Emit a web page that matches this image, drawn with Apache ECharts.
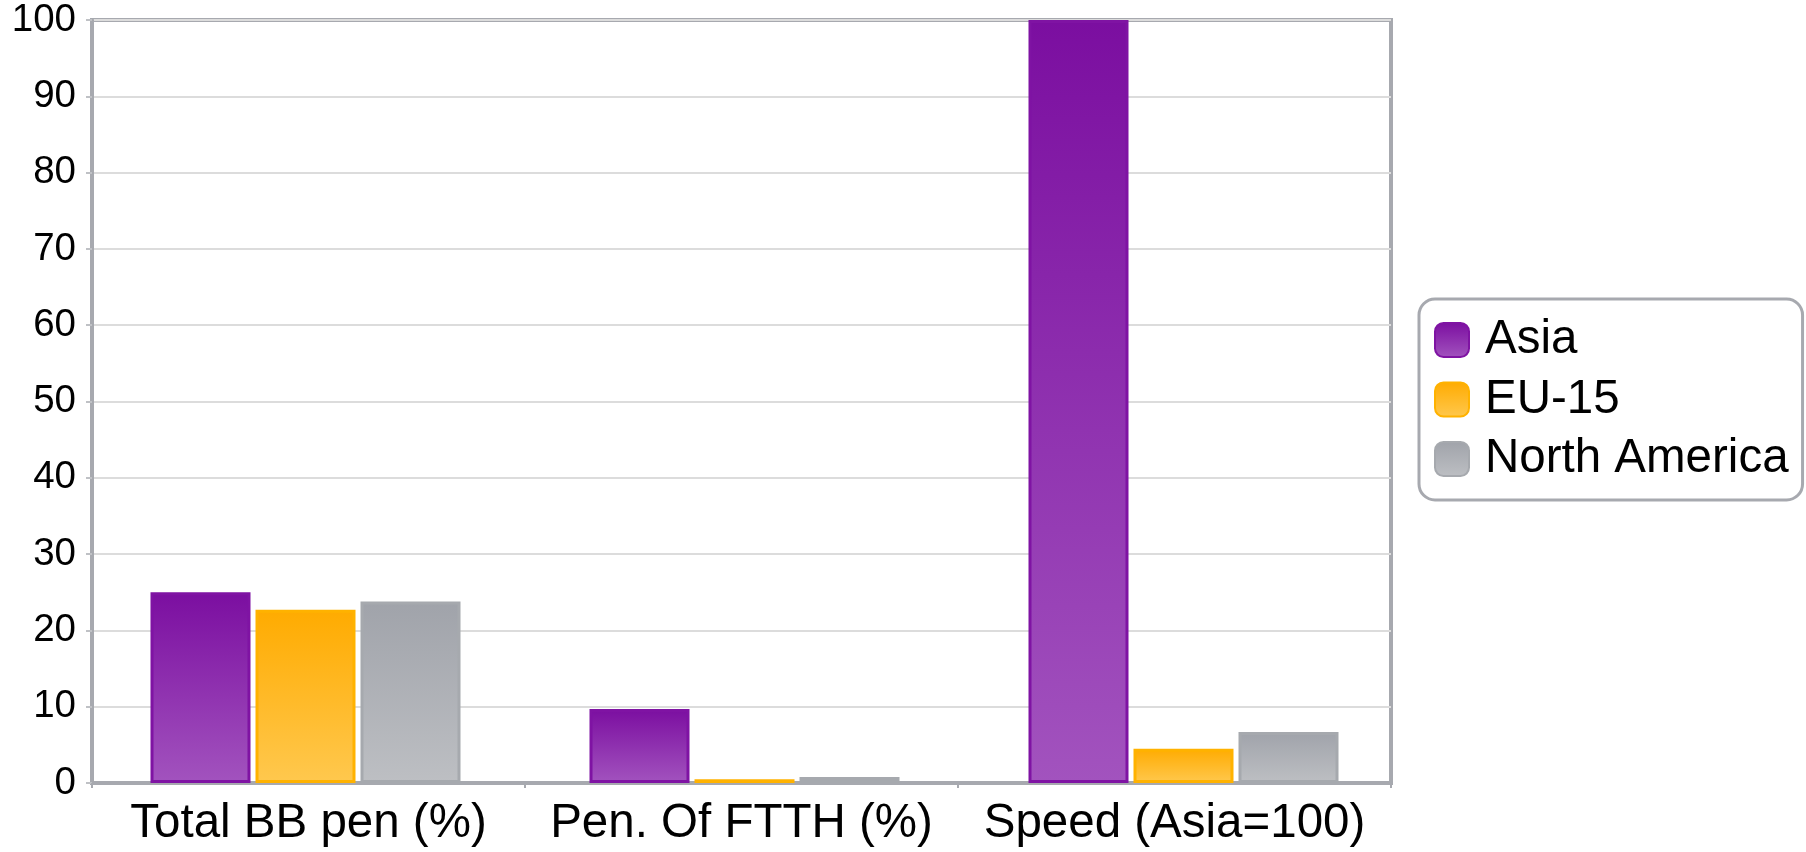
<!DOCTYPE html>
<html>
<head>
<meta charset="utf-8">
<script src="https://cdn.jsdelivr.net/npm/echarts@6/dist/echarts.min.js"></script>
<style>
  html, body { margin: 0; padding: 0; background: #ffffff; }
  #chart { width: 1806px; height: 852px; }
</style>
</head>
<body>
<div id="chart"></div>
<script>
// Broadband comparison by region
const categories = ['Total BB pen (%)', 'Pen. Of FTTH (%)', 'Speed (Asia=100)'];
const seriesNames = ['Asia', 'EU-15', 'North America'];
const asiaValues = [25, 9.7, 100];
const euValues = [22.7, 0.5, 4.5];
const northAmericaValues = [23.8, 0.8, 6.7];
const yTicks = { min: 0, max: 100, step: 10 };

const FONT = '"Liberation Sans", Arial, sans-serif';
const FRAME = '#A7A9AF';

// top colour, bottom colour, outline colour per region
const palette = [
  ['#7B0EA0', '#A253BE', '#7F13A3'],
  ['#FFAB00', '#FFC84E', '#FFB200'],
  ['#A0A3AA', '#BDBFC3', '#A6A9AE']
];

function fill(p) {
  return new echarts.graphic.LinearGradient(0, 0, 0, 1, [
    { offset: 0, color: p[0] },
    { offset: 1, color: p[1] }
  ]);
}

const valueSets = [asiaValues, euValues, northAmericaValues];

// bars sit on their own (hidden) category axis, spaced slightly wider than the framed one
const series = seriesNames.map((name, i) => ({
  name: name,
  type: 'bar',
  xAxisIndex: 1,
  yAxisIndex: 1,
  data: valueSets[i],
  barWidth: 100,
  barGap: '5%',
  itemStyle: {
    color: fill(palette[i]),
    borderColor: palette[i][2],
    borderWidth: 3
  }
}));

const chart = echarts.init(document.getElementById('chart'), null, { renderer: 'canvas' });
chart.setOption({
  backgroundColor: '#ffffff',
  animation: false,
  grid: [
    {
      left: 92, right: 415, top: 20, bottom: 69,
      show: true,
      borderColor: FRAME,
      borderWidth: 4,
      containLabel: false
    },
    { left: 86, right: 403, top: 20, bottom: 69, containLabel: false }
  ],
  legend: {
    orient: 'vertical',
    left: 1419,
    top: 299,
    padding: [17, 14, 17, 15],
    backgroundColor: '#ffffff',
    borderColor: FRAME,
    borderWidth: 3,
    borderRadius: 16,
    itemWidth: 34,
    itemHeight: 34,
    itemGap: 11.5,
    icon: 'roundRect',
    textStyle: {
      fontFamily: FONT,
      fontSize: 47.5,
      lineHeight: 47.5,
      color: '#000000',
      padding: [0, 0, 0, 11]
    },
    data: seriesNames.map((n, i) => ({
      name: n,
      itemStyle: { color: fill(palette[i]), borderColor: palette[i][2], borderWidth: 2 }
    }))
  },
  xAxis: [
    {
      type: 'category',
      gridIndex: 0,
      data: categories,
      axisLine: { show: true, lineStyle: { color: FRAME, width: 4 } },
      axisTick: { show: true, length: 5, interval: 0, lineStyle: { color: FRAME, width: 2 } },
      axisLabel: {
        interval: 0,
        margin: 17,
        fontFamily: FONT,
        fontSize: 47.5,
        lineHeight: 47.5,
        color: '#000000'
      },
      splitLine: { show: false }
    },
    {
      type: 'category',
      gridIndex: 1,
      data: categories,
      show: false
    }
  ],
  yAxis: [
    {
      type: 'value',
      gridIndex: 0,
      min: yTicks.min,
      max: yTicks.max,
      interval: yTicks.step,
      axisLine: { show: true, lineStyle: { color: FRAME, width: 4 } },
      axisTick: { show: true, length: 6, lineStyle: { color: '#BFC1C5', width: 2 } },
      axisLabel: {
        margin: 16,
        fontFamily: FONT,
        fontSize: 38.5,
        color: '#000000'
      },
      splitLine: { show: true, lineStyle: { color: '#DCDCDC', width: 2 } }
    },
    {
      type: 'value',
      gridIndex: 1,
      min: yTicks.min,
      max: yTicks.max,
      interval: yTicks.step,
      show: false,
      splitLine: { show: false }
    }
  ],
  series: series
});
</script>
</body>
</html>
